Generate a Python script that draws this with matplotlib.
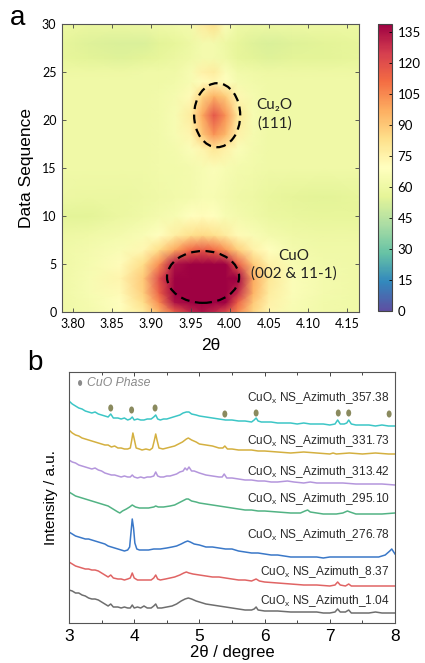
import numpy as np
import matplotlib
matplotlib.use("Agg")
import matplotlib.pyplot as plt
from matplotlib.patches import Ellipse
from matplotlib.path import Path

# ---------------- Panel a data (heat map grid) ----------------
hm_x = [3.786, 3.82, 3.86, 3.89, 3.91, 3.93, 3.95, 3.965, 3.98, 3.995, 4.01, 4.03, 4.05, 4.08, 4.12, 4.165]
hm_y = [0, 1, 2, 3.5, 5, 6.5, 8, 10, 12, 15, 17, 18.5, 20.5, 22.5, 24, 25, 26.5, 28, 30]
hm_values = [
    [61, 63, 68, 78, 95, 115, 130, 135, 130, 120, 105, 86, 74, 65, 62, 61],
    [61, 64, 70, 84, 105, 135, 160, 170, 160, 140, 115, 90, 76, 66, 62, 61],
    [61, 65, 72, 88, 115, 150, 200, 210, 200, 170, 130, 96, 78, 67, 63, 61],
    [61, 65, 74, 90, 120, 160, 220, 230, 220, 180, 140, 98, 80, 67, 63, 61],
    [61, 64, 71, 84, 104, 135, 175, 185, 175, 148, 116, 90, 76, 65, 62, 61],
    [61, 63, 66, 73, 84, 98, 112, 116, 112, 102, 88, 76, 69, 63, 61, 61],
    [60, 61, 63, 66, 70, 77, 83, 85, 83, 78, 72, 66, 63, 61, 60, 60],
    [55, 55, 59, 61, 63, 65, 69, 71, 69, 65, 63, 61, 59, 58, 57, 57],
    [60, 59, 59, 60, 61, 62, 63, 65, 65, 63, 61, 60, 58, 56, 55, 57],
    [61, 61, 61, 61, 62, 62, 63, 65, 67, 65, 63, 62, 61, 61, 61, 61],
    [61, 61, 61, 61, 62, 63, 67, 74, 80, 76, 67, 63, 61, 61, 61, 61],
    [61, 61, 61, 61, 62, 65, 74, 90, 103, 94, 76, 64, 61, 61, 61, 61],
    [61, 61, 61, 61, 62, 65, 78, 98, 118, 103, 80, 65, 61, 61, 61, 61],
    [61, 61, 61, 61, 62, 64, 72, 86, 96, 88, 73, 64, 61, 61, 61, 61],
    [61, 61, 61, 61, 61, 62, 65, 71, 73, 69, 64, 62, 61, 61, 61, 61],
    [60, 60, 60, 61, 61, 61, 65, 76, 78, 67, 62, 61, 60, 60, 60, 60],
    [57, 55, 54, 55, 57, 59, 61, 63, 63, 61, 57, 55, 54, 55, 55, 57],
    [57, 54, 53, 53, 55, 57, 60, 63, 63, 60, 57, 54, 53, 54, 55, 57],
    [60, 59, 59, 60, 61, 62, 63, 78, 83, 67, 61, 60, 60, 60, 60, 60],
]
a_xticks = [3.80, 3.85, 3.90, 3.95, 4.00, 4.05, 4.10, 4.15]
a_yticks = [0, 5, 10, 15, 20, 25, 30]
cbar_ticks = [0, 15, 30, 45, 60, 75, 90, 105, 120, 135]

# ---------------- Panel b data (XRD traces, offset intensities) ----------------
labels_b = ["357.38", "331.73", "313.42", "295.10", "276.78", "8.37", "1.04"]
colors_b = ["#3cc6c6", "#d4b040", "#b496dc", "#52b384", "#3a78c8", "#e06464", "#6e6e6e"]
label_y = [225, 182, 151, 124, 88, 51, 22]

x_cyan = [3.00, 3.05, 3.10, 3.15, 3.20, 3.25, 3.30, 3.35, 3.40, 3.45, 3.50, 3.55, 3.60, 3.64, 3.68, 3.75, 3.80, 3.85, 3.90, 3.94, 3.97, 4.00, 4.05, 4.10, 4.15, 4.20, 4.26, 4.30, 4.33, 4.36, 4.40, 4.45, 4.50, 4.55, 4.60, 4.65, 4.70, 4.75, 4.80, 4.84, 4.88, 4.95, 5.00, 5.10, 5.20, 5.30, 5.40, 5.50, 5.60, 5.70, 5.80, 5.84, 5.87, 5.90, 5.95, 6.00, 6.10, 6.20, 6.30, 6.40, 6.50, 6.60, 6.70, 6.80, 6.90, 7.00, 7.08, 7.12, 7.16, 7.22, 7.26, 7.29, 7.33, 7.40, 7.50, 7.60, 7.70, 7.80, 7.90, 8.00]
y_cyan = [222, 219, 217, 215, 214, 212, 211, 210, 211, 209, 208, 207, 206, 209, 205, 205, 204, 205, 203, 204, 206, 203, 204, 203, 203, 204, 204, 206, 208, 204, 203, 204, 204, 205, 206, 207, 208, 210, 211, 211, 209, 208, 207, 206, 205, 204, 203, 203, 202, 202, 201, 203, 205, 202, 201, 201, 201, 200, 200, 200, 199, 200, 199, 199, 199, 198, 199, 203, 199, 199, 200, 203, 199, 198, 198, 198, 197, 198, 197, 197]

x_yellow = [3.00, 3.05, 3.10, 3.15, 3.20, 3.25, 3.30, 3.35, 3.40, 3.45, 3.50, 3.55, 3.60, 3.65, 3.70, 3.75, 3.80, 3.85, 3.90, 3.94, 3.96, 3.98, 4.00, 4.03, 4.08, 4.12, 4.18, 4.24, 4.28, 4.31, 4.33, 4.35, 4.38, 4.44, 4.50, 4.56, 4.62, 4.68, 4.74, 4.80, 4.83, 4.88, 4.95, 5.00, 5.10, 5.20, 5.30, 5.36, 5.39, 5.43, 5.50, 5.60, 5.70, 5.80, 5.90, 6.00, 6.20, 6.40, 6.60, 6.80, 7.00, 7.05, 7.10, 7.30, 7.50, 7.70, 7.90, 8.00]
y_yellow = [193, 190, 188, 187, 185, 184, 183, 182, 181, 180, 179, 178, 178, 176, 177, 175, 175, 174, 174, 175, 182, 190, 184, 175, 174, 173, 174, 173, 175, 183, 189, 183, 175, 174, 175, 176, 177, 179, 181, 184, 185, 183, 181, 179, 178, 177, 175, 175, 177, 174, 174, 173, 173, 173, 172, 172, 171, 170, 171, 170, 169, 170, 169, 170, 169, 170, 169, 169]

x_purple = [3.00, 3.05, 3.10, 3.15, 3.20, 3.25, 3.30, 3.35, 3.40, 3.45, 3.50, 3.55, 3.60, 3.65, 3.70, 3.75, 3.80, 3.85, 3.90, 3.94, 3.97, 4.00, 4.05, 4.10, 4.15, 4.20, 4.25, 4.30, 4.33, 4.36, 4.40, 4.45, 4.50, 4.55, 4.60, 4.65, 4.70, 4.75, 4.78, 4.81, 4.84, 4.88, 4.92, 5.00, 5.05, 5.10, 5.20, 5.30, 5.35, 5.38, 5.42, 5.50, 5.60, 5.70, 5.80, 5.90, 6.00, 6.10, 6.20, 6.35, 6.45, 6.60, 6.70, 6.80, 7.00, 7.20, 7.40, 7.60, 7.80, 8.00]
y_purple = [163, 161, 160, 158, 157, 156, 155, 154, 155, 153, 152, 150, 149, 148, 148, 147, 146, 147, 146, 146, 148, 146, 145, 146, 145, 146, 146, 147, 151, 147, 146, 146, 147, 147, 148, 149, 151, 152, 155, 153, 156, 152, 152, 150, 149, 148, 147, 146, 146, 149, 145, 145, 144, 143, 143, 142, 142, 141, 141, 142, 141, 140, 141, 140, 140, 140, 139, 139, 139, 138]

x_green = [3.00, 3.05, 3.10, 3.15, 3.20, 3.25, 3.30, 3.35, 3.40, 3.45, 3.50, 3.55, 3.60, 3.65, 3.70, 3.75, 3.78, 3.82, 3.88, 3.93, 3.97, 4.02, 4.08, 4.15, 4.22, 4.30, 4.33, 4.37, 4.45, 4.55, 4.62, 4.68, 4.74, 4.80, 4.83, 4.88, 4.95, 5.00, 5.10, 5.20, 5.30, 5.40, 5.50, 5.60, 5.70, 5.80, 5.90, 6.00, 6.20, 6.40, 6.55, 6.62, 6.66, 6.70, 6.80, 6.90, 7.00, 7.10, 7.20, 7.27, 7.31, 7.40, 7.60, 7.80, 8.00]
y_green = [131, 129, 127, 126, 125, 124, 123, 122, 121, 120, 119, 118, 117, 115, 113, 111, 110, 112, 114, 116, 118, 116, 115, 115, 115, 116, 117, 116, 116, 117, 118, 120, 122, 124, 124, 122, 121, 120, 119, 118, 117, 116, 115, 114, 113, 113, 112, 112, 111, 110, 110, 112, 113, 111, 110, 109, 109, 109, 110, 112, 111, 109, 109, 109, 110]

x_blue = [3.00, 3.05, 3.10, 3.15, 3.20, 3.25, 3.30, 3.35, 3.40, 3.45, 3.50, 3.55, 3.60, 3.65, 3.70, 3.75, 3.80, 3.85, 3.90, 3.93, 3.95, 3.97, 3.99, 4.01, 4.04, 4.08, 4.15, 4.22, 4.30, 4.40, 4.50, 4.58, 4.65, 4.72, 4.78, 4.82, 4.86, 4.92, 5.00, 5.10, 5.20, 5.30, 5.40, 5.50, 5.60, 5.70, 5.80, 5.90, 6.00, 6.10, 6.20, 6.30, 6.40, 6.50, 6.60, 6.70, 6.80, 6.90, 7.00, 7.20, 7.40, 7.60, 7.75, 7.85, 7.92, 7.95, 7.98, 8.00]
y_blue = [91, 89, 87, 86, 85, 84, 84, 83, 82, 81, 80, 79, 77, 76, 75, 74, 73, 72, 73, 76, 90, 104, 95, 80, 74, 73, 73, 73, 74, 74, 75, 76, 77, 79, 81, 82, 81, 79, 78, 76, 76, 75, 74, 74, 72, 71, 70, 70, 69, 68, 68, 67, 66, 66, 66, 66, 66, 65, 66, 66, 66, 66, 66, 68, 72, 74, 71, 69]

x_red = [3.00, 3.05, 3.10, 3.15, 3.20, 3.25, 3.30, 3.35, 3.40, 3.45, 3.50, 3.55, 3.60, 3.64, 3.68, 3.75, 3.80, 3.85, 3.90, 3.94, 3.97, 4.00, 4.05, 4.10, 4.15, 4.20, 4.26, 4.30, 4.33, 4.36, 4.40, 4.48, 4.55, 4.62, 4.70, 4.76, 4.80, 4.84, 4.90, 5.00, 5.10, 5.20, 5.30, 5.40, 5.50, 5.60, 5.70, 5.80, 5.87, 5.92, 6.00, 6.20, 6.40, 6.60, 6.80, 7.00, 7.08, 7.12, 7.16, 7.24, 7.29, 7.33, 7.50, 7.70, 7.90, 8.00]
y_red = [61, 59, 57, 56, 55, 54, 54, 53, 53, 52, 50, 48, 46, 48, 45, 44, 44, 43, 44, 45, 50, 45, 43, 43, 43, 43, 43, 45, 48, 44, 43, 44, 45, 46, 48, 50, 51, 50, 49, 48, 47, 46, 46, 45, 44, 43, 43, 42, 44, 42, 41, 40, 39, 38, 38, 37, 38, 41, 38, 37, 39, 37, 37, 37, 37, 37]

x_gray = [3.00, 3.05, 3.10, 3.15, 3.20, 3.25, 3.30, 3.35, 3.40, 3.45, 3.50, 3.55, 3.60, 3.64, 3.68, 3.75, 3.80, 3.85, 3.90, 3.94, 3.97, 4.00, 4.05, 4.10, 4.15, 4.20, 4.26, 4.30, 4.33, 4.36, 4.42, 4.50, 4.58, 4.65, 4.72, 4.78, 4.83, 4.88, 4.95, 5.00, 5.10, 5.20, 5.30, 5.40, 5.50, 5.60, 5.70, 5.80, 5.84, 5.87, 5.90, 6.00, 6.20, 6.40, 6.60, 6.80, 6.90, 7.00, 7.08, 7.12, 7.16, 7.24, 7.29, 7.33, 7.50, 7.60, 7.70, 7.80, 8.00]
y_gray = [33, 32, 30, 30, 28, 27, 25, 24, 24, 23, 21, 19, 17, 19, 16, 16, 15, 16, 15, 15, 18, 15, 16, 15, 17, 15, 15, 17, 19, 15, 15, 16, 17, 19, 22, 24, 25, 24, 22, 21, 19, 18, 17, 16, 15, 14, 13, 13, 14, 16, 13, 12, 12, 11, 11, 11, 10, 10, 11, 14, 11, 11, 13, 10, 10, 10, 11, 10, 10]

cuo_marker_x = [3.64, 3.96, 4.32, 5.39, 5.87, 7.13, 7.29, 7.91]
cuo_marker_y = [215, 213, 215, 209, 210, 210, 210, 209]
b_xticks = [3, 4, 5, 6, 7, 8]

traces_x = [x_cyan, x_yellow, x_purple, x_green, x_blue, x_red, x_gray]
traces_y = [y_cyan, y_yellow, y_purple, y_green, y_blue, y_red, y_gray]

# ---------------- Figure ----------------
W, H = 425, 663
fig = plt.figure(figsize=(W / 100, H / 100), dpi=100)

def rect(l, t, r, b):
    return [l / W, 1 - b / H, (r - l) / W, (b - t) / H]

calib = ["Lato", "DejaVu Sans"]
arial = ["Liberation Sans", "DejaVu Sans"]

# Panel a
ax = fig.add_axes(rect(62, 24, 359, 312))
X, Y = np.meshgrid(hm_x, hm_y)
mesh = ax.pcolormesh(X, Y, np.array(hm_values, dtype=float), shading="gouraud",
                     cmap="Spectral_r", vmin=0, vmax=139, rasterized=True)
ax.set_xlim(3.786, 4.165)
ax.set_ylim(0, 30)
ax.set_xticks(a_xticks)
ax.set_xticklabels([f"{v:.2f}" for v in a_xticks], family=calib, fontsize=9)
ax.set_yticks(a_yticks)
ax.set_yticklabels([str(v) for v in a_yticks], family=calib, fontsize=9)
ax.tick_params(direction="in", length=3, width=0.6, top=True, right=True, color="#444444", pad=4)
for s in ax.spines.values():
    s.set_color("#555555")
    s.set_linewidth(0.8)
ax.set_ylabel("Data Sequence", family=arial, fontsize=12.5, labelpad=6)
ax.set_xlabel("2θ", family=arial, fontsize=12.5, labelpad=6)

ax.add_patch(Ellipse((3.984, 20.5), 0.0588, 6.67, fill=False, ls=(0, (4, 2.5)), lw=1.6, color="black"))
ax.add_patch(Ellipse((3.966, 3.65), 0.092, 5.4, fill=False, ls=(0, (4, 2.5)), lw=1.6, color="black"))
ax.text(4.057, 20.6, "Cu\u2082O\n(111)", family=calib, fontsize=11, ha="center", va="center",
        linespacing=1.35, color="#222222")
ax.text(4.082, 4.9, "CuO\n(002 & 11-1)", family=calib, fontsize=11, ha="center", va="center",
        linespacing=1.35, color="#222222")

fig.text(10 / W, 1 - 18 / H, "a", family=arial, fontsize=20, va="center", ha="left")

cax = fig.add_axes(rect(378, 24, 392, 311))
cb = fig.colorbar(mesh, cax=cax, ticks=cbar_ticks)
cb.ax.tick_params(direction="in", length=2.5, width=0.6, labelsize=9.5, pad=4)
for t in cb.ax.get_yticklabels():
    t.set_family(calib)
cb.outline.set_edgecolor("#444444")
cb.outline.set_linewidth(0.8)

# Panel b
bx = fig.add_axes(rect(69, 372, 395, 623))
for xs, ys, c in zip(traces_x, traces_y, colors_b):
    bx.plot(xs, ys, color=c, lw=1.1)
for lab, ly in zip(labels_b, label_y):
    bx.text(7.92, ly, "CuO$_\\mathregular{x}$ NS_Azimuth_" + lab, family=arial, fontsize=8.6,
            ha="right", va="center", color="#2a2a2a")

# vertically elongated dot marker
circ = Path.unit_circle()
ell_marker = Path(circ.vertices * np.array([0.7, 1.0]), circ.codes)
bx.scatter(cuo_marker_x, cuo_marker_y, marker=ell_marker, s=26, color="#8a8a5e", zorder=3,
           edgecolors="none")
bx.scatter([3.17], [240], marker=ell_marker, s=18, color="#8a8a8a", edgecolors="none")
bx.text(3.27, 240, "CuO Phase", family=arial, style="italic", fontsize=8.8, color="#8a8a8a",
        ha="left", va="center")
bx.set_xlim(3, 8)
bx.set_ylim(0, 251)
bx.set_yticks([])
bx.set_xticks(b_xticks)
bx.set_xticks([3.5, 4.5, 5.5, 6.5, 7.5], minor=True)
bx.set_xticklabels([str(v) for v in b_xticks], family=arial, fontsize=12.5)
bx.tick_params(axis="x", which="both", direction="in", top=True, length=3, width=0.7,
               color="#444444", pad=4)
bx.tick_params(axis="x", which="minor", length=2)
for s in bx.spines.values():
    s.set_color("#555555")
    s.set_linewidth(0.8)
bx.set_ylabel("Intensity / a.u.", family=arial, fontsize=11, labelpad=8)
bx.set_xlabel("2θ / degree", family=arial, fontsize=12, labelpad=1)

fig.text(27 / W, 1 - 363 / H, "b", family=arial, fontsize=20, va="center", ha="left")

fig.savefig("out.png", dpi=100)
